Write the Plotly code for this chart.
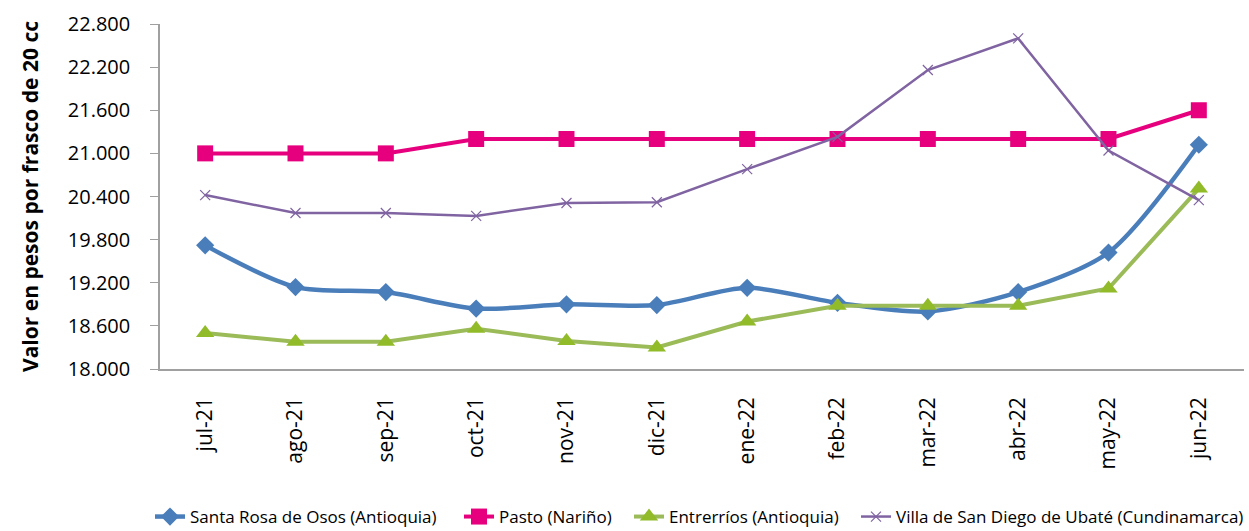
import plotly.graph_objects as go

months = ["jul-21", "ago-21", "sep-21", "oct-21", "nov-21", "dic-21",
          "ene-22", "feb-22", "mar-22", "abr-22", "may-22", "jun-22"]

santa_rosa = [19720, 19140, 19070, 18840, 18900, 18890, 19130, 18920, 18800, 19070, 19620, 21120]
pasto = [21000, 21000, 21000, 21200, 21200, 21200, 21200, 21200, 21200, 21200, 21200, 21600]
entrerrios = [18500, 18380, 18380, 18560, 18390, 18300, 18660, 18880, 18880, 18880, 19120, 20510]
ubate = [20420, 20170, 20170, 20130, 20310, 20320, 20780, 21230, 22160, 22600, 21040, 20350]

y_ticks = [18000, 18600, 19200, 19800, 20400, 21000, 21600, 22200, 22800]

fig = go.Figure()
fig.add_trace(go.Scatter(
    x=months, y=santa_rosa, name="Santa Rosa de Osos (Antioquia)",
    mode="lines+markers", legend="legend",
    line=dict(color="#4a7ebb", width=4.5, shape="spline", smoothing=0.8),
    marker=dict(symbol="diamond", size=14, color="#4a7ebb"),
))
fig.add_trace(go.Scatter(
    x=months, y=pasto, name="Pasto (Nariño)",
    mode="lines+markers", legend="legend2",
    line=dict(color="#e6007e", width=4),
    marker=dict(symbol="square", size=16, color="#e6007e"),
))
fig.add_trace(go.Scatter(
    x=months, y=entrerrios, name="Entrerríos (Antioquia)",
    mode="lines+markers", legend="legend3",
    line=dict(color="#9bbb59", width=4),
    marker=dict(symbol="triangle-up", size=16, color="#92bb2a"),
))
fig.add_trace(go.Scatter(
    x=months, y=ubate, name="Villa de San Diego de Ubaté (Cundinamarca)",
    mode="lines+markers", legend="legend4",
    line=dict(color="#8064a2", width=2.5),
    marker=dict(symbol="x-thin", size=10, color="#8064a2",
                line=dict(color="#8064a2", width=1.2)),
))

L, R, T, B = 160, 5, 24, 162
W, H = 1249, 531
pw = W - L - R
ph = H - T - B


def leg(px):
    return dict(orientation="h", x=(px - L) / pw, xanchor="left",
                y=-(517 - (H - B)) / ph, yanchor="middle",
                font=dict(size=17, family="Open Sans"),
                itemwidth=30, bgcolor="rgba(0,0,0,0)")


fig.update_layout(
    width=W, height=H,
    margin=dict(l=L, r=R, t=T, b=B, autoexpand=False),
    paper_bgcolor="white", plot_bgcolor="white",
    separators=",.",
    font=dict(family="Open Sans", color="#000000"),
    showlegend=True,
    legend=leg(150), legend2=leg(459), legend3=leg(629), legend4=leg(856),
)
fig.update_xaxes(
    type="category", range=[-0.5, 11.5], automargin=False,
    showline=True, linecolor="#a0a0a0", linewidth=1.5,
    showgrid=False, ticks="", tickangle=-90,
    tickfont=dict(size=21, family="Open Sans"),
    ticklabelstandoff=18,
)
fig.update_yaxes(
    range=[18000, 22800], tickvals=y_ticks, tickformat=",d", automargin=False,
    showline=True, linecolor="#a0a0a0", linewidth=1.5,
    showgrid=False, ticks="outside", ticklen=8, tickcolor="#a0a0a0",
    tickfont=dict(size=20, family="Open Sans"),
    ticklabelstandoff=16,
    title=dict(text="<b>Valor en pesos por frasco de 20 cc</b>",
               font=dict(size=21, family="Open Sans"), standoff=23),
)

fig.write_html("out.html", config={"displayModeBar": False})

with open("out.html", "r", encoding="utf-8") as f:
    html = f.read()
html = html.replace("<head>", "<head><style>html,body{margin:0;padding:0;overflow:hidden;}</style>", 1)
with open("out.html", "w", encoding="utf-8") as f:
    f.write(html)
